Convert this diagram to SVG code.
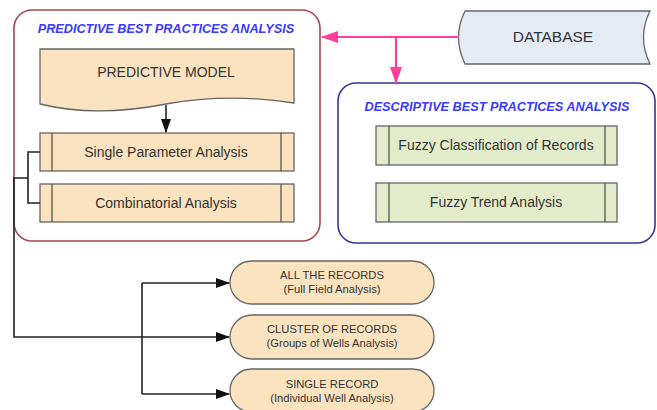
<svg xmlns="http://www.w3.org/2000/svg" width="657" height="410" viewBox="0 0 657 410">
  <defs>
    <marker id="arrowBlack" markerWidth="14" markerHeight="10" refX="13" refY="5" orient="auto" markerUnits="userSpaceOnUse">
      <path d="M0,0 L14,5 L0,10 Z" fill="#111"/>
    </marker>
    <marker id="arrowPink" markerWidth="17" markerHeight="12" refX="16" refY="6" orient="auto" markerUnits="userSpaceOnUse">
      <path d="M0,0 L17,6 L0,12 Z" fill="#ff3d9a"/>
    </marker>
  </defs>
  <style>
    .title { font-family: "Liberation Sans", Arial, sans-serif; font-size: 12.7px; font-weight: bold; font-style: italic; fill: #3a3aff; }
    .lbl { font-family: "Liberation Sans", Arial, sans-serif; fill: #333; text-anchor: middle; }
    .box { font-size: 14px; }
    .pill { font-size: 11.2px; }
    .tan { fill: #fbe3bf; stroke: #666; stroke-width: 1.3; }
    .green { fill: #e2ecca; stroke: #666; stroke-width: 1.3; }
    .bar { stroke: #555; stroke-width: 1.3; fill: none; }
    .wire { fill: none; stroke: #222; stroke-width: 1.6; }
    .pink { fill: none; stroke: #ff3d9a; stroke-width: 2.2; }
  </style>
  <rect width="657" height="410" fill="#fff"/>

  <!-- containers -->
  <g id="predictive-group">
    <rect x="14" y="10" width="306" height="231" rx="18" fill="#fff" stroke="#a8474a" stroke-width="1.6"/>
    <text class="title" x="166" y="33" text-anchor="middle">PREDICTIVE BEST PRACTICES ANALYSIS</text>
  </g>
  <g id="descriptive-group">
    <rect x="338" y="83" width="317" height="160" rx="18" fill="#fff" stroke="#35359a" stroke-width="1.6"/>
    <text class="title" x="497" y="111" text-anchor="middle">DESCRIPTIVE BEST PRACTICES ANALYSIS</text>
  </g>

  <!-- nodes -->
  <g id="predictive-model">
    <path class="tan" d="M40,49 H294 V103 C250,96 210,96 166,104 C120,113 80,114 40,104 Z"/>
    <text class="lbl box" x="166" y="77">PREDICTIVE MODEL</text>
  </g>
  <g id="single-parameter">
    <rect class="tan" x="40" y="133" width="254" height="38"/>
    <path class="bar" d="M52,133 V171 M281,133 V171"/>
    <text class="lbl box" x="166" y="157">Single Parameter Analysis</text>
  </g>
  <g id="combinatorial">
    <rect class="tan" x="40" y="184" width="254" height="38"/>
    <path class="bar" d="M52,184 V222 M281,184 V222"/>
    <text class="lbl box" x="166" y="208">Combinatorial Analysis</text>
  </g>
  <g id="database">
    <path d="M465,11 H650 Q637,37 650,64 H465 Q452,37 465,11 Z" fill="#e5ebf5" stroke="#666" stroke-width="1.3"/>
    <text class="lbl" x="553" y="42" font-size="15.5">DATABASE</text>
  </g>
  <g id="fuzzy-classification">
    <rect class="green" x="376" y="126" width="241" height="39"/>
    <path class="bar" d="M389,126 V165 M605,126 V165"/>
    <text class="lbl box" x="496" y="150">Fuzzy Classification of Records</text>
  </g>
  <g id="fuzzy-trend">
    <rect class="green" x="376" y="183" width="241" height="39"/>
    <path class="bar" d="M389,183 V222 M605,183 V222"/>
    <text class="lbl box" x="496" y="207">Fuzzy Trend Analysis</text>
  </g>
  <g id="all-records">
    <rect class="tan" x="230" y="261" width="204" height="43" rx="21.5"/>
    <text class="lbl pill" x="332" y="279">ALL THE RECORDS</text>
    <text class="lbl pill" x="332" y="293">(Full Field Analysis)</text>
  </g>
  <g id="cluster-records">
    <rect class="tan" x="230" y="315" width="204" height="44" rx="22"/>
    <text class="lbl pill" x="332" y="333">CLUSTER OF RECORDS</text>
    <text class="lbl pill" x="332" y="347">(Groups of Wells Analysis)</text>
  </g>
  <g id="single-record">
    <rect class="tan" x="230" y="369" width="204" height="43" rx="21.5"/>
    <text class="lbl pill" x="332" y="388">SINGLE RECORD</text>
    <text class="lbl pill" x="332" y="402">(Individual Well Analysis)</text>
  </g>

  <!-- connectors -->
  <g id="connectors">
    <line class="wire" x1="166" y1="105" x2="166" y2="132" marker-end="url(#arrowBlack)"/>
    <path class="wire" d="M40,152 H28 V203 H40"/>
    <path class="wire" d="M28,178 H14 V337 H229" marker-end="url(#arrowBlack)"/>
    <path class="wire" d="M142,283 V394"/>
    <line class="wire" x1="142" y1="283" x2="229" y2="283" marker-end="url(#arrowBlack)"/>
    <line class="wire" x1="142" y1="394" x2="229" y2="394" marker-end="url(#arrowBlack)"/>
    <line class="pink" x1="459" y1="37" x2="322" y2="37" marker-end="url(#arrowPink)"/>
    <line class="pink" x1="396" y1="37" x2="396" y2="83" marker-end="url(#arrowPink)"/>
  </g>
</svg>
